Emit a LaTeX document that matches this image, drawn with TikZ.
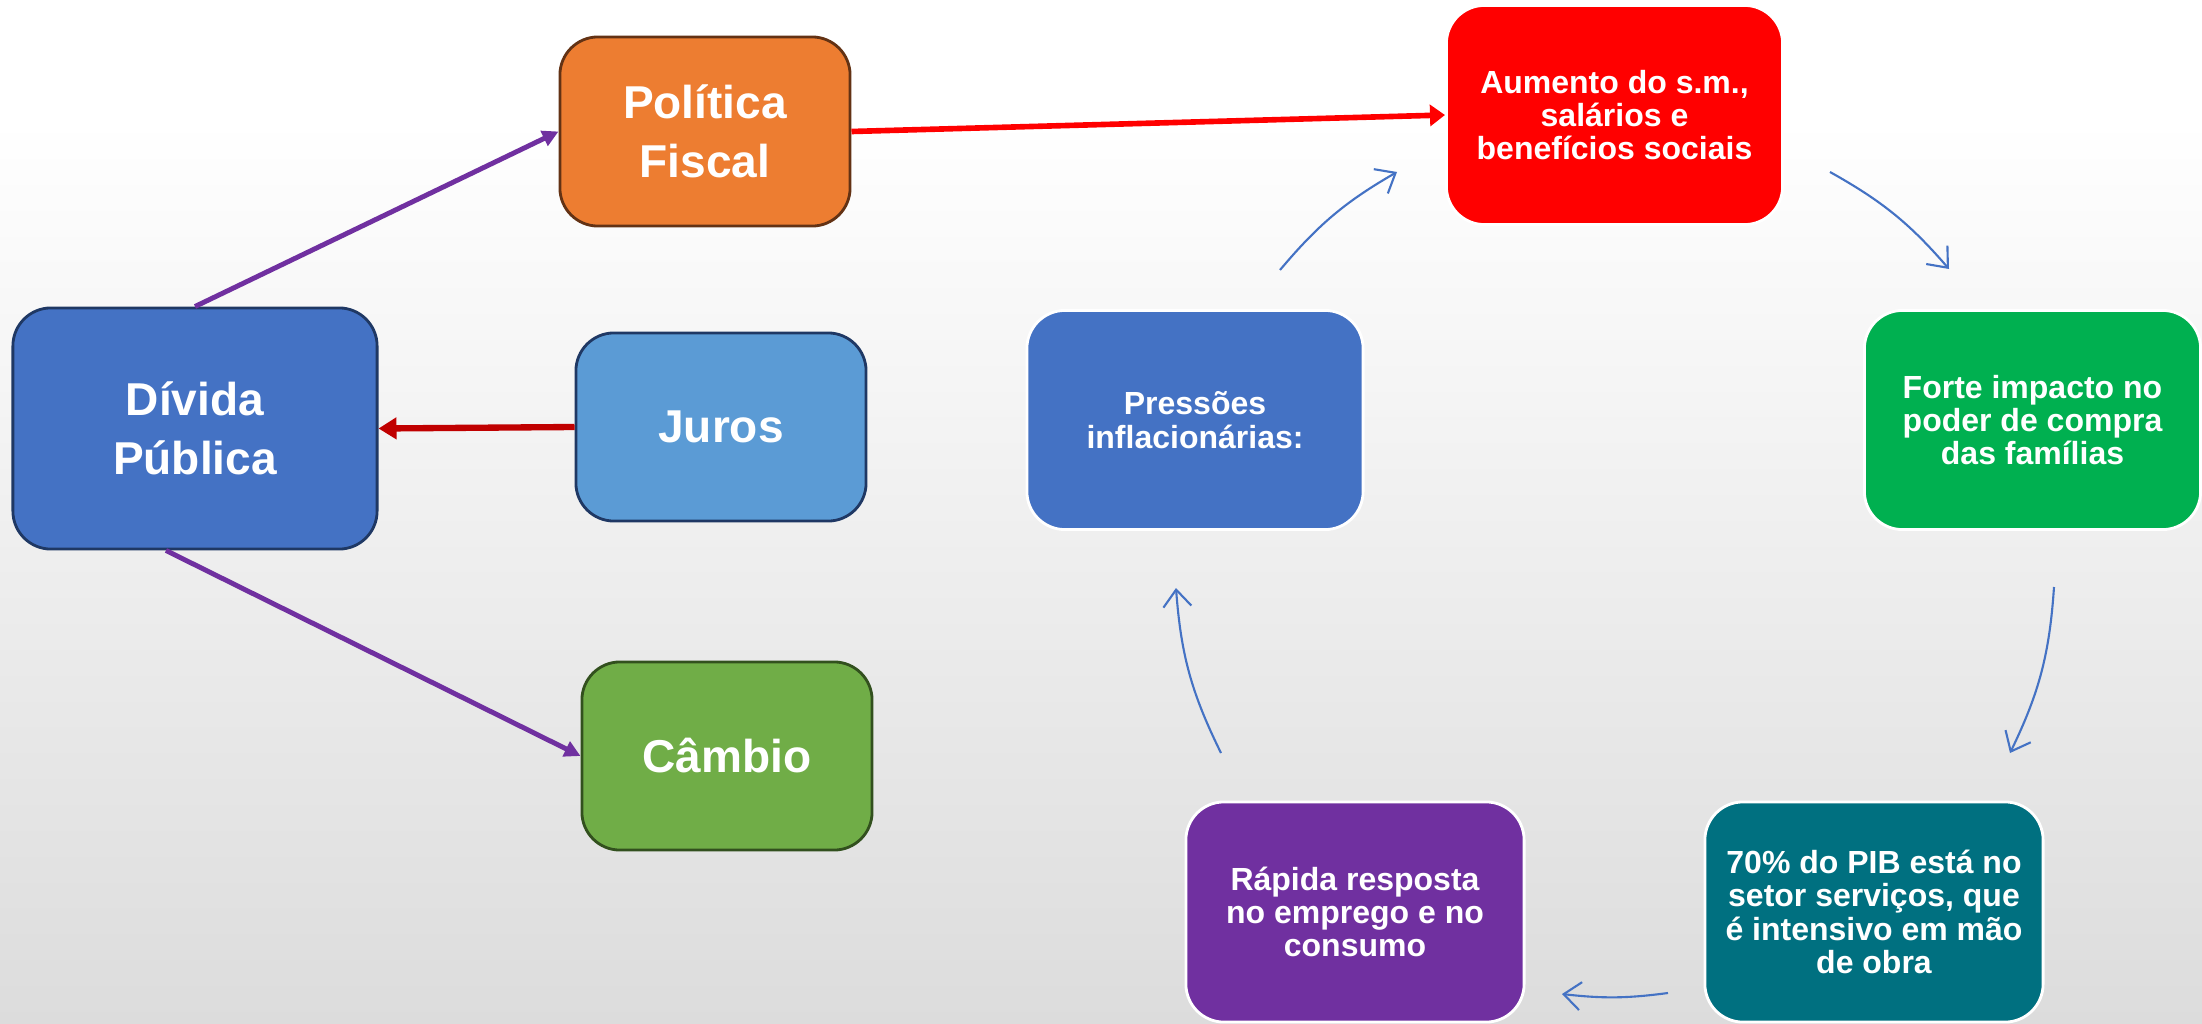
\documentclass[tikz,border=0pt]{standalone}
\usepackage{fontspec}
\setmainfont{Liberation Sans}
\usetikzlibrary{arrows.meta}

\definecolor{bggray}{RGB}{220,220,220}
\definecolor{dividablue}{RGB}{68,114,196}
\definecolor{navyline}{RGB}{31,56,100}
\definecolor{fiscalorange}{RGB}{237,125,49}
\definecolor{brownline}{RGB}{99,50,20}
\definecolor{jurosblue}{RGB}{91,155,213}
\definecolor{cambiogreen}{RGB}{112,173,71}
\definecolor{greenline}{RGB}{50,80,30}
\definecolor{forteg}{RGB}{0,176,80}
\definecolor{pibteal}{RGB}{0,112,128}
\definecolor{rapidapurple}{RGB}{112,48,160}
\definecolor{darkred}{RGB}{192,0,0}

\tikzset{
	bigbox/.style={rounded corners=0.38cm, inner sep=0pt, align=center, text=white, line width=0.8pt,
		font=\bfseries\fontsize{13.1}{16.8}\selectfont},
	cycbox/.style={rounded corners=0.38cm, inner sep=0pt, align=center, text=white, draw=white, line width=0.8pt,
		minimum width=3.36cm, minimum height=2.19cm, font=\bfseries\fontsize{9.1}{9.5}\selectfont},
	purplearrow/.style={draw=rapidapurple, line width=1.4pt, -{Triangle[length=0.16cm,width=0.16cm]}},
	cycarrow/.style={draw=dividablue, line width=0.6pt, -{Straight Barb[length=0.17cm,width=0.28cm]}}
}

\begin{document}
\begin{tikzpicture}[x=0.01cm,y=-0.01cm]
		\useasboundingbox (0,0) rectangle (2202,1024);
		\fill[white] (0,0) rectangle (2202,120);
		\shade[top color=white, bottom color=bggray] (0,120) rectangle (2202,1024);

		\node[bigbox, fill=dividablue, draw=navyline, minimum width=3.64cm, minimum height=2.41cm] (divida) at (195,428.5) {Dívida\\Pública};
		\node[bigbox, fill=fiscalorange, draw=brownline, minimum width=2.9cm, minimum height=1.89cm] (politica) at (705,131.5) {Política\\Fiscal};
		\node[bigbox, fill=jurosblue, draw=navyline, minimum width=2.9cm, minimum height=1.88cm] (juros) at (721,427) {Juros};
		\node[bigbox, fill=cambiogreen, draw=greenline, minimum width=2.9cm, minimum height=1.88cm] (cambio) at (727,756) {Câmbio};

		\node[cycbox, fill=red] (aumento) at (1614.5,115) {Aumento do s.m.,\\salários e\\benefícios sociais};
		\node[cycbox, fill=forteg] (forte) at (2032.5,420) {Forte impacto no\\poder de compra\\das famílias};
		\node[cycbox, fill=pibteal, minimum width=3.38cm, minimum height=2.2cm] (pib) at (1874,912) {70\% do PIB está no\\setor serviços, que\\é intensivo em mão\\de obra};
		\node[cycbox, fill=rapidapurple, minimum width=3.38cm, minimum height=2.2cm] (rapida) at (1355,912) {Rápida resposta\\no emprego e no\\consumo};
		\node[cycbox, fill=dividablue] (pressoes) at (1195,420) {Pressões\\inflacionárias:};

		\draw[purplearrow] (divida.north) -- (politica.west);
		\draw[purplearrow] ([xshift=-0.29cm]divida.south) -- (cambio.west);
		\draw[darkred, line width=1.8pt, -{Triangle[length=0.18cm,width=0.21cm]}] (juros.west) -- (divida.east);
		\draw[red, line width=1.6pt, -{Triangle[length=0.15cm,width=0.21cm]}] (politica.east) -- (aumento.west);

		\coordinate (c1s) at (1280,270);
		\coordinate (c1e) at (1397,172);
		\coordinate (c2s) at (1830,172);
		\coordinate (c2e) at (1949,269);
		\coordinate (c3s) at (2054,587);
		\coordinate (c3e) at (2010,753);
		\coordinate (c4s) at (1668,993);
		\coordinate (c4e) at (1562,994);
		\coordinate (c5s) at (1221,753);
		\coordinate (c5e) at (1176,588);

		\draw[cycarrow] (c1s) to[bend left=10] (c1e);
		\draw[cycarrow] (c2s) to[bend left=10] (c2e);
		\draw[cycarrow] (c3s) to[bend left=11] (c3e);
		\draw[cycarrow] (c4s) to[bend left=7] (c4e);
		\draw[cycarrow] (c5s) to[bend left=11] (c5e);

	\end{tikzpicture}
\end{document}
